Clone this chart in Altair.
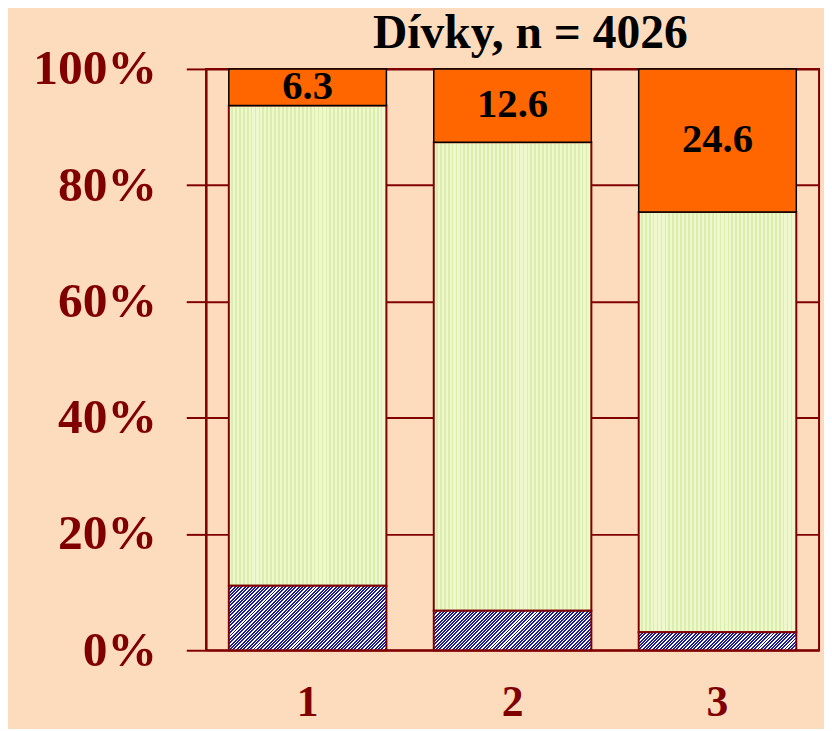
import altair as alt
import pandas as pd

# ---- data ----
categories = ["1", "2", "3"]
blue_values = [11.1, 6.8, 3.1]      # hatched bottom segment
green_values = [82.6, 80.6, 72.3]   # light green middle segment
orange_values = [6.3, 12.6, 24.6]   # orange top segment (labelled)
y_ticks = [0, 20, 40, 60, 80, 100]
title_text = "Dívky, n = 4026"
title_over = "2"                    # title sits above the middle bar

# ---- layout / style ----
W, H = 619, 587
PAD_IN, PAD_OUT = 0.231, 0.111
step = W / (len(categories) - PAD_IN + 2 * PAD_OUT)
bandwidth = step * (1 - PAD_IN)
DARKRED = "#800000"
FONT = "Liberation Serif"

rows = []
for c, b, g, o in zip(categories, blue_values, green_values, orange_values):
    rows.append(dict(cat=c, b0=0.0, b1=b, g0=b, g1=b + g, o0=b + g, o1=b + g + o,
                     mid=b + g + o / 2.0, label=o))
df = pd.DataFrame(rows)
title_df = pd.DataFrame({"cat": [title_over], "t": [title_text]})


def stripes(c1, c2, n, frac=0.5):
    stops = []
    for k in range(n):
        a = k / n
        m = (k + frac) / n
        e = (k + 1) / n
        stops += [alt.GradientStop(offset=a, color=c1), alt.GradientStop(offset=m, color=c1),
                  alt.GradientStop(offset=m, color=c2), alt.GradientStop(offset=e, color=c2)]
    return stops


green_fill = alt.LinearGradient(gradient="linear", x1=0, y1=0, x2=1, y2=0,
                                stops=stripes("#EEF8CC", "#DCEEAE", 40, 0.55))

xenc = alt.X("cat:N", sort=categories, title=None,
             scale=alt.Scale(paddingInner=PAD_IN, paddingOuter=PAD_OUT),
             axis=alt.Axis(domain=False, ticks=False, tickSize=0, grid=False, labelAngle=0,
                           labelFont=FONT, labelFontSize=44, labelFontWeight="bold",
                           labelColor=DARKRED, labelBaseline="alphabetic", labelPadding=66))
yscale = alt.Scale(domain=[0, 100], nice=False)
yaxis = alt.Axis(values=y_ticks, labelExpr="datum.value + '%'", title=None,
                 domain=True, domainColor=DARKRED, domainWidth=2,
                 ticks=True, tickColor=DARKRED, tickWidth=2, tickSize=20,
                 grid=True, gridColor=DARKRED, gridWidth=2, gridOpacity=1,
                 labelFont=FONT, labelFontSize=50, labelFontWeight="bold",
                 labelColor=DARKRED, labelPadding=30)

base = alt.Chart(df)

green = base.mark_bar(fill=green_fill, stroke=DARKRED, strokeWidth=2).encode(
    x=xenc, y=alt.Y("g0:Q", scale=yscale, axis=yaxis), y2="g1:Q")

layers = [green]
for c, b in zip(categories, blue_values):
    h = b / 100.0 * H
    w = bandwidth
    k = (w + h) / (w * w + h * h)
    n = max(1, int(round((w + h) / 3.4)))
    fill = alt.LinearGradient(gradient="linear", x1=0, y1=0, x2=k * w, y2=k * h,
                              stops=stripes("#1C1C96", "#FFFFFF", n, 0.58))
    layers.append(
        base.transform_filter(alt.datum.cat == c)
        .mark_bar(fill=fill, stroke=DARKRED, strokeWidth=2)
        .encode(x=xenc, y=alt.Y("b0:Q", scale=yscale, axis=yaxis), y2="b1:Q")
    )

orange = base.mark_bar(fill="#FF6600", stroke="black", strokeWidth=1.5).encode(
    x=xenc, y=alt.Y("o0:Q", scale=yscale, axis=yaxis), y2="o1:Q")
labels = base.mark_text(font=FONT, fontSize=41, fontWeight="bold", color="black",
                        baseline="middle").encode(
    x=xenc, y=alt.Y("mid:Q", scale=yscale, axis=yaxis), text=alt.Text("label:Q", format=".1f"))
title_mark = alt.Chart(title_df).mark_text(
    font=FONT, fontSize=48, fontWeight="bold", color="black",
    baseline="alphabetic", align="center", dx=18).encode(
    x=xenc, y=alt.value(-21), text="t:N")
layers += [orange, labels, title_mark]

chart = alt.layer(*layers).properties(
    width=W, height=H,
    autosize=alt.AutoSizeParams(type="none"),
    padding={"left": 200, "top": 58, "right": 5, "bottom": 76},
    background="#FDDCBE",
).configure_view(stroke=DARKRED, strokeWidth=2)

chart.save("out.html", embed_options={"renderer": "svg", "actions": False})
